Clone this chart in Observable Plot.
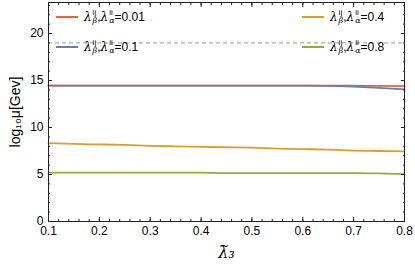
<!DOCTYPE html>
<html><head><meta charset="utf-8">
<script src="https://cdn.jsdelivr.net/npm/d3@7"></script>
<script src="https://cdn.jsdelivr.net/npm/@observablehq/plot@0.6"></script>
<style>
body{margin:0;background:#fff;font-family:"Liberation Sans",Arial,sans-serif;}
#wrap{position:relative;width:415px;height:272px;}
.leg{position:absolute;font-size:12px;color:#000;white-space:nowrap;display:flex;align-items:center;}
.leg .sw{display:inline-block;width:22px;height:2px;margin-right:6px;}
.lam{font-family:"DejaVu Serif","Liberation Serif",serif;font-style:italic;}
.ss{display:inline-flex;flex-direction:column;font-size:8px;line-height:8px;vertical-align:middle;margin-left:1px;}
.ss i{font-family:"DejaVu Serif","Liberation Serif",serif;}
</style></head><body>
<div id="wrap"></div>
<script>
const xs = [0.1,0.15,0.2,0.25,0.3,0.35,0.4,0.45,0.5,0.55,0.6,0.65,0.7,0.75,0.8];
const s001 = [14.45,14.45,14.45,14.45,14.45,14.45,14.45,14.45,14.45,14.45,14.45,14.45,14.45,14.42,14.4];
const s01  = [14.45,14.45,14.45,14.45,14.45,14.45,14.45,14.45,14.45,14.45,14.45,14.43,14.35,14.22,14.05];
const s04  = [8.33,8.25,8.2,8.15,8.05,8.0,7.95,7.9,7.85,7.75,7.7,7.65,7.55,7.5,7.45];
const s08  = [5.2,5.2,5.2,5.2,5.2,5.2,5.2,5.15,5.15,5.15,5.15,5.15,5.15,5.12,5.05];
const seriesNames = ["0.01","0.1","0.4","0.8"];
const seriesColors = ["#EB6235","#5E81B5","#E19C24","#8FB032"];
const xTicks = [0.1,0.2,0.3,0.4,0.5,0.6,0.7,0.8];
const yTicks = [0,5,10,15,20];
const yMinor = d3.range(0,24,1);
const xMinor = d3.range(0.1,0.8001,0.02).map(v=>+v.toFixed(2));
const refLine = [19];
const xLabel = "λ\u0303₃";
const yLabel = "log₁₀μ[Gev]";

const allSeries = [s001,s01,s04,s08];
const rows = [];
allSeries.forEach((s,i)=>s.forEach((v,j)=>rows.push({x:xs[j],y:v,k:seriesNames[i]})));

const blank = () => "";
const tickOpts = {tickSize:-4, stroke:"#222"};
const minorOpts = {tickSize:-2, tickFormat:blank, label:null, stroke:"#222"};
const plot = Plot.plot({
  width:415, height:272,
  marginLeft:48, marginRight:11, marginTop:2, marginBottom:51,
  style:{fontFamily:"'Liberation Sans',Arial,sans-serif", fontSize:"12px", color:"#000"},
  x:{domain:[0.1,0.8]},
  y:{domain:[0,23.3]},
  color:{domain:seriesNames, range:seriesColors},
  marks:[
    Plot.ruleY(refLine,{stroke:"#999", strokeDasharray:"4,3", strokeWidth:1}),
    Plot.line(rows,{x:"x",y:"y",stroke:"k",strokeWidth:1.8,curve:"monotone-x"}),
    Plot.axisX(xTicks,{anchor:"bottom", ...tickOpts, tickFormat:d=>d.toFixed(1), tickPadding:9, fontSize:12, label:null}),
    Plot.axisX(xMinor,{anchor:"bottom", ...minorOpts}),
    Plot.axisX(xTicks,{anchor:"top", ...tickOpts, tickFormat:blank, label:null}),
    Plot.axisX(xMinor,{anchor:"top", ...minorOpts}),
    Plot.axisY(yTicks,{anchor:"left", ...tickOpts, tickFormat:d=>d, tickPadding:9, fontSize:12, label:null}),
    Plot.axisY(yMinor,{anchor:"left", ...minorOpts}),
    Plot.axisY(yTicks,{anchor:"right", ...tickOpts, tickFormat:blank, label:null}),
    Plot.axisY(yMinor,{anchor:"right", ...minorOpts}),
    Plot.frame({stroke:"#222", strokeWidth:1}),
    Plot.text([yLabel],{frameAnchor:"left", rotate:-90, dx:-33, fontSize:14, textAnchor:"middle"}),
    Plot.text([xLabel],{frameAnchor:"bottom", dy:36, fontSize:16, fontStyle:"italic", fontFamily:"'DejaVu Serif',serif"})
  ]
});
const wrap = document.getElementById("wrap");
wrap.appendChild(plot);

function legItem(left, top, color, val){
  const d = document.createElement("div");
  d.className="leg";
  d.style.left=left+"px"; d.style.top=top+"px";
  d.innerHTML = `<span class="sw" style="background:${color}"></span><span class="lam">λ</span><span class="ss"><span>ij</span><i>β</i></span>,<span class="lam">λ</span><span class="ss"><span>ii</span><i>α</i></span>=${val}`;
  wrap.appendChild(d);
}
legItem(56, 9, seriesColors[0], seriesNames[0]);
legItem(56, 39, seriesColors[1], seriesNames[1]);
legItem(302, 9, seriesColors[2], seriesNames[2]);
legItem(302, 39, seriesColors[3], seriesNames[3]);
</script>
</body></html>
